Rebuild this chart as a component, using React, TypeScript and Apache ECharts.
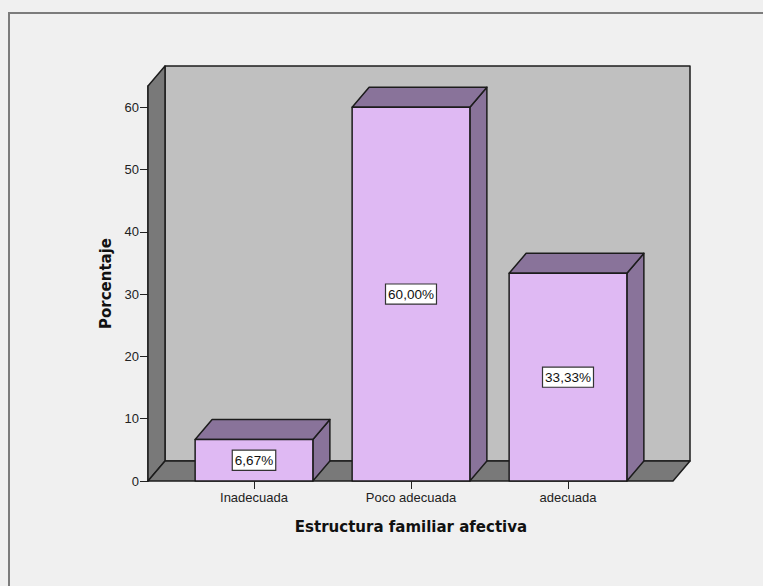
import React, { useEffect, useRef } from "react";
import * as echarts from "echarts";

const categories = ["Inadecuada", "Poco adecuada", "adecuada"];
const percentages = [6.67, 60.0, 33.33];
const yTicks = [0, 10, 20, 30, 40, 50, 60];
const yMax = 63.4;
const xTitle = "Estructura familiar afectiva";
const yTitle = "Porcentaje";

const FONT = '"Liberation Sans", Arial, sans-serif';
const TITLE_FONT = '"DejaVu Sans", Verdana, sans-serif';

export default function App() {
  const ref = useRef<HTMLDivElement>(null);
  useEffect(() => {
    const chart = echarts.init(ref.current!, null, { renderer: "svg" });
    const DX = 17;
    const DY = 20;
    const extL = 27.5;
    const extR = 26.5;
    const outline = "#1c1c1c";

    const option: any = {
      animation: false,
      backgroundColor: "#f0f0f0",
      textStyle: { fontFamily: FONT },
      graphic: [
        {
          type: "rect",
          shape: { x: 9, y: 13, width: 820, height: 700 },
          style: { fill: "none", stroke: "#7c7c7c", lineWidth: 2 },
          silent: true,
        },
      ],
      grid: { left: 175.5, right: 116.5, top: 86, bottom: 105 },
      xAxis: {
        type: "category",
        data: categories,
        axisLine: { show: false },
        axisTick: { show: true, alignWithLabel: true, length: 8, lineStyle: { color: "#222", width: 1 } },
        axisLabel: { margin: 10, fontSize: 13, color: "#222", fontFamily: FONT },
        name: xTitle,
        nameLocation: "middle",
        nameGap: 38,
        nameTextStyle: { fontSize: 15, fontWeight: "bold", color: "#111", fontFamily: TITLE_FONT },
      },
      yAxis: {
        type: "value",
        min: 0,
        max: yMax,
        offset: extL,
        splitLine: { show: false },
        axisLine: { show: true, lineStyle: { color: outline, width: 1.5 } },
        axisTick: { show: true, length: 8, customValues: yTicks, lineStyle: { color: "#222", width: 1 } },
        axisLabel: { customValues: yTicks, margin: 9, fontSize: 13, color: "#222", fontFamily: FONT },
        name: yTitle,
        nameLocation: "middle",
        nameGap: 34,
        nameTextStyle: { fontSize: 15, fontWeight: "bold", color: "#111", fontFamily: TITLE_FONT },
      },
      series: [
        {
          type: "custom",
          silent: true,
          data: [[0, 0]],
          encode: { x: 0, y: 1 },
          z: 1,
          renderItem: (params: any, api: any) => {
            const cs = params.coordSys;
            const x0 = cs.x - extL;
            const x1 = cs.x + cs.width + extR;
            const yb = api.coord([0, 0])[1];
            const yt = api.coord([0, yMax])[1];
            const st = { stroke: outline, lineWidth: 1.5, lineJoin: "round" };
            return {
              type: "group",
              children: [
                {
                  type: "rect",
                  shape: { x: x0 + DX, y: yt - DY, width: x1 - x0, height: yb - yt },
                  style: { fill: "#c0c0c0", ...st },
                },
                {
                  type: "polygon",
                  shape: { points: [[x0, yb], [x0, yt], [x0 + DX, yt - DY], [x0 + DX, yb - DY]] },
                  style: { fill: "#797979", ...st },
                },
                {
                  type: "polygon",
                  shape: { points: [[x0, yb], [x0 + DX, yb - DY], [x1 + DX, yb - DY], [x1, yb]] },
                  style: { fill: "#797979", ...st },
                },
              ],
            };
          },
        },
        {
          type: "custom",
          data: percentages.map((v, i) => [i, v]),
          encode: { x: 0, y: 1 },
          z: 2,
          renderItem: (params: any, api: any) => {
            const idx = api.value(0);
            const val = api.value(1);
            const p = api.coord([idx, val]);
            const b = api.coord([idx, 0]);
            const w = api.size([1, 0])[0] * 0.75;
            const l = p[0] - w / 2;
            const r = p[0] + w / 2;
            const top = p[1];
            const bottom = b[1];
            const st = { stroke: outline, lineWidth: 1.5, lineJoin: "round" };
            const label = val.toFixed(2).replace(".", ",") + "%";
            return {
              type: "group",
              children: [
                {
                  type: "polygon",
                  shape: { points: [[r, bottom], [r, top], [r + DX, top - DY], [r + DX, bottom - DY]] },
                  style: { fill: "#89739a", ...st },
                },
                {
                  type: "polygon",
                  shape: { points: [[l, top], [l + DX, top - DY], [r + DX, top - DY], [r, top]] },
                  style: { fill: "#89739a", ...st },
                },
                {
                  type: "rect",
                  shape: { x: l, y: top, width: w, height: bottom - top },
                  style: { fill: "#dfb9f3", ...st },
                },
                {
                  type: "text",
                  x: p[0],
                  y: (top + bottom) / 2,
                  style: {
                    text: label,
                    align: "center",
                    verticalAlign: "middle",
                    fill: "#111",
                    fontSize: 13.5,
                    fontFamily: FONT,
                    backgroundColor: "#ffffff",
                    borderColor: "#333",
                    borderWidth: 1.2,
                    padding: [3, 2, 2, 2],
                  },
                },
              ],
            };
          },
        },
      ],
    };
    chart.setOption(option);
    return () => chart.dispose();
  }, []);
  return (
    <div
      ref={ref}
      style={{ position: "fixed", left: 0, top: 0, width: 763, height: 586, background: "#f0f0f0" }}
    />
  );
}
